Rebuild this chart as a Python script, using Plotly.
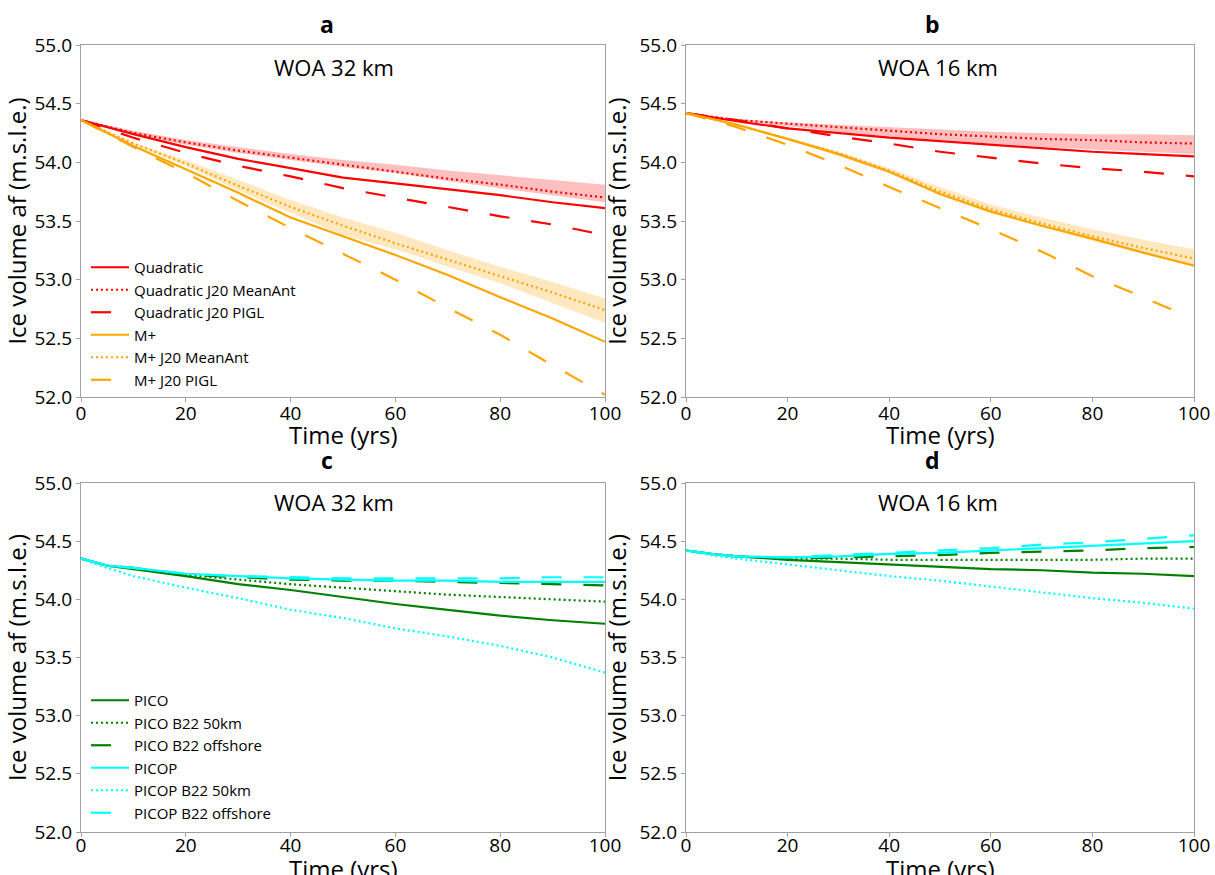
import plotly.graph_objects as go

# ---------------- data ----------------
years = [0, 10, 20, 30, 40, 50, 60, 70, 80, 90, 100]
years_b_pigl = [0, 10, 20, 30, 40, 50, 60, 70, 80, 90, 97]
t_cd = [0, 5, 10, 20, 30, 40, 50, 60, 70, 80, 90, 100]

# Panel a (WOA 32 km)
a_quad = [54.36, 54.24, 54.13, 54.03, 53.95, 53.87, 53.82, 53.77, 53.72, 53.66, 53.61]
a_quad_mean = [54.36, 54.25, 54.17, 54.10, 54.04, 53.98, 53.92, 53.86, 53.81, 53.75, 53.70]
a_quad_hi = [54.36, 54.27, 54.19, 54.13, 54.07, 54.02, 53.98, 53.93, 53.89, 53.85, 53.81]
a_quad_lo = [54.36, 54.24, 54.15, 54.08, 54.02, 53.96, 53.91, 53.84, 53.78, 53.72, 53.66]
a_quad_pigl = [54.36, 54.21, 54.08, 53.97, 53.88, 53.78, 53.70, 53.62, 53.54, 53.47, 53.38]
a_mplus = [54.36, 54.14, 53.94, 53.74, 53.53, 53.37, 53.21, 53.04, 52.85, 52.67, 52.47]
a_mplus_mean = [54.36, 54.16, 53.99, 53.80, 53.62, 53.46, 53.31, 53.17, 53.03, 52.89, 52.74]
a_mplus_hi = [54.36, 54.17, 54.02, 53.85, 53.68, 53.53, 53.40, 53.25, 53.11, 52.98, 52.84]
a_mplus_lo = [54.36, 54.15, 53.97, 53.76, 53.57, 53.38, 53.26, 53.11, 52.97, 52.80, 52.63]
a_mplus_pigl = [54.36, 54.13, 53.91, 53.67, 53.44, 53.22, 53.00, 52.76, 52.53, 52.27, 52.02]

# Panel b (WOA 16 km)
b_quad = [54.42, 54.35, 54.29, 54.25, 54.21, 54.18, 54.15, 54.12, 54.09, 54.07, 54.05]
b_quad_mean = [54.42, 54.36, 54.33, 54.30, 54.27, 54.24, 54.22, 54.20, 54.19, 54.17, 54.16]
b_quad_hi = [54.42, 54.37, 54.34, 54.32, 54.30, 54.28, 54.26, 54.25, 54.24, 54.24, 54.23]
b_quad_lo = [54.42, 54.35, 54.31, 54.26, 54.22, 54.19, 54.16, 54.13, 54.11, 54.09, 54.07]
b_quad_pigl = [54.42, 54.36, 54.29, 54.22, 54.16, 54.09, 54.04, 53.99, 53.95, 53.92, 53.88]
b_mplus = [54.42, 54.32, 54.20, 54.07, 53.92, 53.73, 53.58, 53.46, 53.35, 53.23, 53.12]
b_mplus_mean = [54.42, 54.32, 54.20, 54.08, 53.93, 53.75, 53.60, 53.48, 53.37, 53.27, 53.18]
b_mplus_hi = [54.42, 54.33, 54.21, 54.09, 53.95, 53.79, 53.64, 53.53, 53.43, 53.34, 53.26]
b_mplus_lo = [54.42, 54.32, 54.19, 54.06, 53.91, 53.72, 53.57, 53.45, 53.33, 53.22, 53.12]
b_mplus_pigl = [54.42, 54.30, 54.15, 53.98, 53.79, 53.61, 53.43, 53.24, 53.03, 52.85, 52.72]

# Panel c (WOA 32 km)
c_pico = [54.35, 54.29, 54.26, 54.20, 54.13, 54.08, 54.02, 53.96, 53.91, 53.86, 53.82, 53.79]
c_pico_50 = [54.35, 54.29, 54.27, 54.21, 54.17, 54.13, 54.10, 54.07, 54.04, 54.02, 54.00, 53.98]
c_pico_off = [54.35, 54.29, 54.27, 54.21, 54.19, 54.17, 54.16, 54.16, 54.15, 54.14, 54.13, 54.12]
c_picop = [54.35, 54.29, 54.27, 54.22, 54.20, 54.18, 54.17, 54.16, 54.16, 54.15, 54.15, 54.15]
c_picop_50 = [54.35, 54.27, 54.20, 54.10, 54.01, 53.91, 53.84, 53.75, 53.68, 53.60, 53.50, 53.37]
c_picop_off = [54.35, 54.29, 54.27, 54.22, 54.20, 54.19, 54.18, 54.18, 54.18, 54.18, 54.19, 54.19]

# Panel d (WOA 16 km)
d_pico = [54.42, 54.39, 54.37, 54.34, 54.32, 54.30, 54.28, 54.26, 54.25, 54.23, 54.22, 54.20]
d_pico_50 = [54.42, 54.39, 54.37, 54.35, 54.35, 54.34, 54.34, 54.34, 54.34, 54.34, 54.35, 54.35]
d_pico_off = [54.42, 54.39, 54.37, 54.35, 54.36, 54.37, 54.38, 54.40, 54.41, 54.42, 54.44, 54.45]
d_picop = [54.42, 54.39, 54.37, 54.36, 54.37, 54.39, 54.40, 54.42, 54.44, 54.46, 54.48, 54.50]
d_picop_50 = [54.42, 54.38, 54.35, 54.30, 54.25, 54.20, 54.16, 54.11, 54.06, 54.01, 53.97, 53.92]
d_picop_off = [54.42, 54.39, 54.37, 54.36, 54.38, 54.40, 54.42, 54.44, 54.47, 54.49, 54.52, 54.55]

panel_letters = ["a", "b", "c", "d"]
panel_titles = ["WOA 32 km", "WOA 16 km", "WOA 32 km", "WOA 16 km"]
x_title = "Time (yrs)"
y_title = "Ice volume af (m.s.l.e.)"
y_ticks = [52.0, 52.5, 53.0, 53.5, 54.0, 54.5, 55.0]
x_ticks = [0, 20, 40, 60, 80, 100]

# ---------------- styles ----------------
RED = "#ff0000"
ORANGE = "#ffa500"
GREEN = "#008000"
CYAN = "#00ffff"
RED_BAND = "rgba(255,0,0,0.25)"
ORANGE_BAND = "rgba(255,165,0,0.25)"
DASH = "20px,22px"
DOT = "2px,3px"
FONT = "Open Sans"
LW = 2.2

W, H = 1215, 875
def px_x(p):
    return p / W
def px_y(p):
    return 1 - p / H

fig = go.Figure()

def line(x, y, color, dash, name, ax, legend=None, show=False):
    fig.add_trace(go.Scatter(
        x=x, y=y, mode="lines", name=name,
        line=dict(color=color, width=LW, dash=dash),
        xaxis="x" + ax, yaxis="y" + ax,
        showlegend=show, legend=legend if legend else "legend",
        hoverinfo="skip"))

def band(x, lo, hi, fillcolor, ax):
    fig.add_trace(go.Scatter(x=x, y=lo, mode="lines", line=dict(width=0, color=fillcolor),
                             xaxis="x" + ax, yaxis="y" + ax, showlegend=False, hoverinfo="skip"))
    fig.add_trace(go.Scatter(x=x, y=hi, mode="lines", line=dict(width=0, color=fillcolor),
                             fill="tonexty", fillcolor=fillcolor,
                             xaxis="x" + ax, yaxis="y" + ax, showlegend=False, hoverinfo="skip"))

# Panel a
band(years, a_quad_lo, a_quad_hi, RED_BAND, "")
band(years, a_mplus_lo, a_mplus_hi, ORANGE_BAND, "")
line(years, a_quad, RED, "solid", "Quadratic", "", "legend", True)
line(years, a_quad_mean, RED, DOT, "Quadratic J20 MeanAnt", "", "legend", True)
line(years, a_quad_pigl, RED, DASH, "Quadratic J20 PIGL", "", "legend", True)
line(years, a_mplus, ORANGE, "solid", "M+", "", "legend", True)
line(years, a_mplus_mean, ORANGE, DOT, "M+ J20 MeanAnt", "", "legend", True)
line(years, a_mplus_pigl, ORANGE, DASH, "M+ J20 PIGL", "", "legend", True)

# Panel b
band(years, b_quad_lo, b_quad_hi, RED_BAND, "2")
band(years, b_mplus_lo, b_mplus_hi, ORANGE_BAND, "2")
line(years, b_quad, RED, "solid", "Quadratic", "2")
line(years, b_quad_mean, RED, DOT, "Quadratic J20 MeanAnt", "2")
line(years, b_quad_pigl, RED, DASH, "Quadratic J20 PIGL", "2")
line(years, b_mplus, ORANGE, "solid", "M+", "2")
line(years, b_mplus_mean, ORANGE, DOT, "M+ J20 MeanAnt", "2")
line(years_b_pigl, b_mplus_pigl, ORANGE, DASH, "M+ J20 PIGL", "2")

# Panel c
line(t_cd, c_pico, GREEN, "solid", "PICO", "3", "legend2", True)
line(t_cd, c_pico_50, GREEN, DOT, "PICO B22 50km", "3", "legend2", True)
line(t_cd, c_pico_off, GREEN, DASH, "PICO B22 offshore", "3", "legend2", True)
line(t_cd, c_picop, CYAN, "solid", "PICOP", "3", "legend2", True)
line(t_cd, c_picop_50, CYAN, DOT, "PICOP B22 50km", "3", "legend2", True)
line(t_cd, c_picop_off, CYAN, DASH, "PICOP B22 offshore", "3", "legend2", True)

# Panel d
line(t_cd, d_pico, GREEN, "solid", "PICO", "4")
line(t_cd, d_pico_50, GREEN, DOT, "PICO B22 50km", "4")
line(t_cd, d_pico_off, GREEN, DASH, "PICO B22 offshore", "4")
line(t_cd, d_picop, CYAN, "solid", "PICOP", "4")
line(t_cd, d_picop_50, CYAN, DOT, "PICOP B22 50km", "4")
line(t_cd, d_picop_off, CYAN, DASH, "PICOP B22 offshore", "4")

# ---------------- layout ----------------
x_left = [px_x(81), px_x(605)]
x_right = [px_x(686), px_x(1194)]
y_top = [px_y(397), px_y(45)]
y_bot = [px_y(832), px_y(483)]

AXCOL = "#a0a0a0"
def xax(domain, anchor, standoff):
    return dict(domain=domain, anchor=anchor, range=[0, 100], tickvals=x_ticks,
                automargin=False, ticklabelstandoff=standoff,
                showline=True, mirror=True, linecolor=AXCOL, linewidth=1.2,
                ticks="outside", ticklen=4, tickcolor=AXCOL, showgrid=False, zeroline=False,
                tickfont=dict(family=FONT, size=19, color="#000"))
def yax(domain, anchor):
    return dict(domain=domain, anchor=anchor, range=[52, 55], tickvals=y_ticks, tickformat=".1f",
                automargin=False,
                showline=True, mirror=True, linecolor=AXCOL, linewidth=1.2,
                ticks="outside", ticklen=4, tickcolor=AXCOL, showgrid=False, zeroline=False,
                tickfont=dict(family=FONT, size=19, color="#000"),
                title=dict(text=y_title, font=dict(family=FONT, size=24, color="#000"), standoff=6))

annotations = []
letter_pos = [(327, 24), (932, 24), (327, 460), (932, 460)]
title_pos = [(334, 67), (938, 67), (334, 502), (938, 502)]
xtitle_pos = [(343, 435), (940, 435), (343, 868), (940, 868)]
for L, (lx, ly), T, (tx, ty), (ax_, ay_) in zip(panel_letters, letter_pos, panel_titles, title_pos, xtitle_pos):
    annotations.append(dict(text="<b>" + L + "</b>", x=px_x(lx), y=px_y(ly), xref="paper", yref="paper",
                            showarrow=False, xanchor="center", yanchor="middle",
                            font=dict(family=FONT, size=23, color="#000")))
    annotations.append(dict(text=T, x=px_x(tx), y=px_y(ty), xref="paper", yref="paper",
                            showarrow=False, xanchor="center", yanchor="middle",
                            font=dict(family=FONT, size=22, color="#000")))
    annotations.append(dict(text=x_title, x=px_x(ax_), y=px_y(ay_), xref="paper", yref="paper",
                            showarrow=False, xanchor="center", yanchor="middle",
                            font=dict(family=FONT, size=24, color="#000")))

legend_common = dict(bgcolor="rgba(0,0,0,0)", borderwidth=0, itemwidth=38,
                     font=dict(family=FONT, size=15, color="#000"),
                     xanchor="left", yanchor="top", tracegroupgap=0, traceorder="normal")

fig.update_layout(
    width=W, height=H,
    margin=dict(l=0, r=0, t=0, b=0, autoexpand=False),
    paper_bgcolor="white", plot_bgcolor="white",
    font=dict(family=FONT),
    xaxis=xax(x_left, "y", -5), yaxis=yax(y_top, "x"),
    xaxis2=xax(x_right, "y2", -5), yaxis2=yax(y_top, "x2"),
    xaxis3=xax(x_left, "y3", -8), yaxis3=yax(y_bot, "x3"),
    xaxis4=xax(x_right, "y4", -8), yaxis4=yax(y_bot, "x4"),
    legend=dict(x=px_x(86), y=px_y(251), **legend_common),
    legend2=dict(x=px_x(86), y=px_y(684), **legend_common),
    annotations=annotations,
)

fig.write_html("out.html")
